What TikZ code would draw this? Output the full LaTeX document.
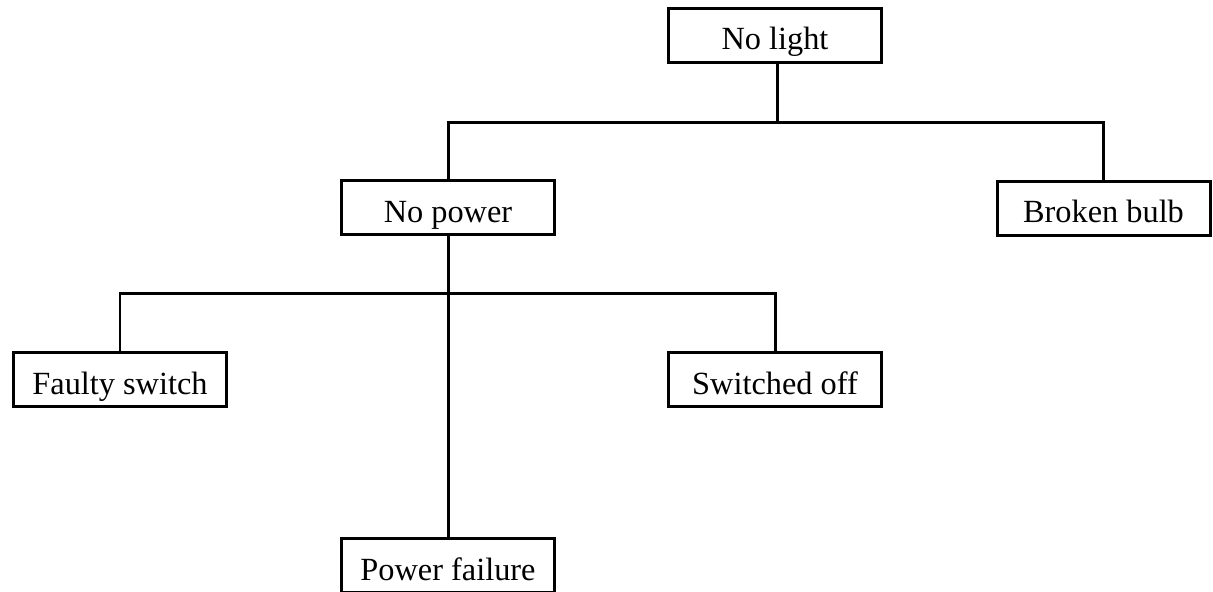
\documentclass[tikz,border=0pt]{standalone}
\usepackage{fontspec}
\setmainfont{Liberation Serif}
\tikzset{
   cause/.style={draw, line width=1.7pt, minimum width=4.26cm, minimum height=1.08cm,
      inner sep=0pt, text height=0.68cm, text depth=0.1cm,
      font=\fontsize{18.4}{22}\selectfont},
   link/.style={line width=1.7pt}
}
\begin{document}
\begin{tikzpicture}
      \useasboundingbox (0, 0) rectangle (24.26, -11.82);
      \clip (0, 0) rectangle (24.26, -11.82);

      \begin{scope}[name prefix = top-]
         \node[cause] (light) at (15.5, -0.7) {No light};
      \end{scope}

      \begin{scope}[name prefix = mid-]
         \node[cause] (power) at (8.96, -4.15) {No power};
         \node[cause] (bulb) at (22.07, -4.16) {Broken bulb};
      \end{scope}

      \begin{scope}[name prefix = low-]
         \node[cause] (switch) at (2.4, -7.59) {Faulty switch};
         \node[cause] (off) at (15.5, -7.59) {Switched off};
         \node[cause] (failure) at (8.96, -11.31) {Power failure};
      \end{scope}

      \coordinate (bus-1) at (15.54, -2.44);
      \coordinate (bus-2) at (8.96, -5.86);

      \begin{scope}[link]
         \draw (top-light.south -| bus-1) -- (bus-1);
         \draw (bus-1) -| (mid-power.north);
         \draw (bus-1) -| (mid-bulb.north);
         \draw (mid-power.south) -- (low-failure.north);
         \draw (bus-2) -| (low-switch.north);
         \draw (bus-2) -| (low-off.north);
      \end{scope}
   \end{tikzpicture}
\end{document}
